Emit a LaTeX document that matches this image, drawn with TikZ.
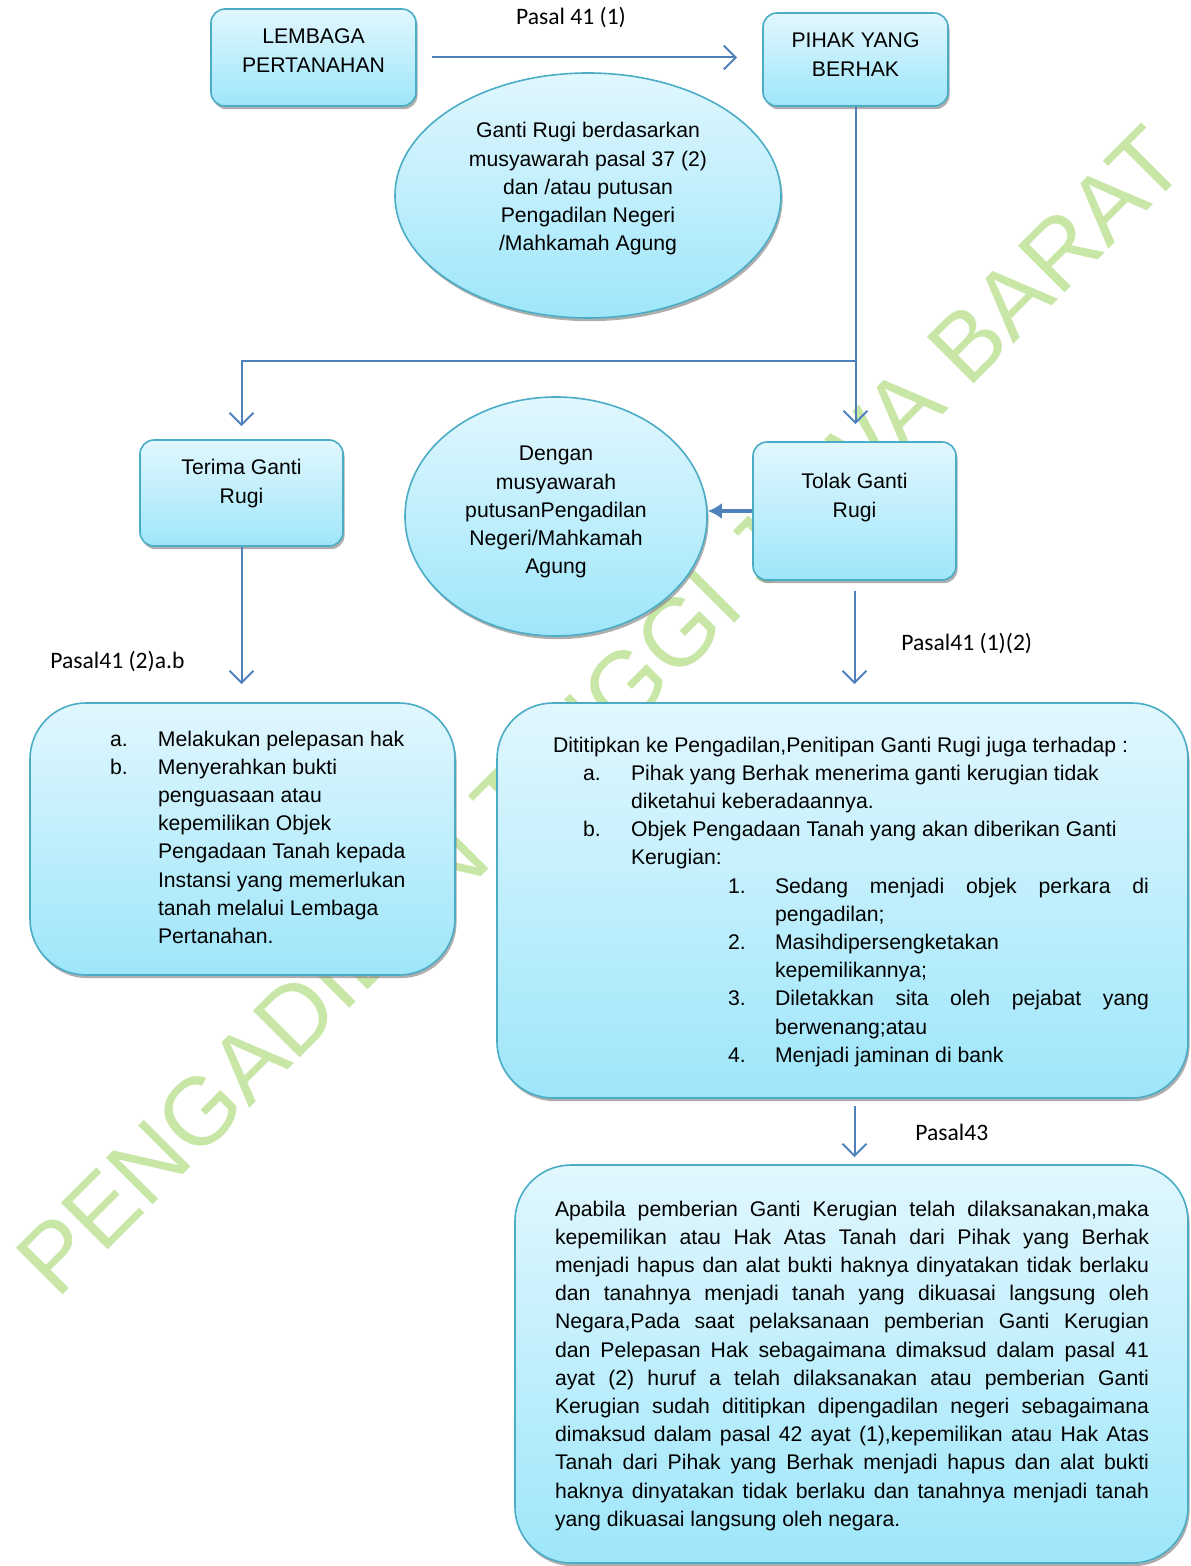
\documentclass[tikz,border=0pt]{standalone}
\usepackage{fontspec}
\setmainfont{Liberation Sans}
\newfontfamily\calibri{Carlito}
\usetikzlibrary{shapes.geometric,shadows,arrows.meta}
\definecolor{pt-biru}{RGB}{79,129,189}
\definecolor{pt-tepi}{RGB}{75,172,198}
\definecolor{pt-atas}{RGB}{225,247,254}
\definecolor{pt-bawah}{RGB}{158,230,250}
\definecolor{pt-hijau}{RGB}{200,230,166}
\newcommand{\rata}[2]{\makebox[#1][s]{#2}}

\tikzset{
  kotak/.style={draw=pt-tepi, line width=0.8pt, rounded corners=7pt, top color=pt-atas, bottom color=pt-bawah,
    inner sep=0pt, font=\fontsize{10.6}{14.1}\selectfont,
    drop shadow={shadow xshift=0.8pt, shadow yshift=-1.6pt, fill=black!45, opacity=.7}},
  kotakbesar/.style={kotak, rounded corners=28pt},
  elips/.style={kotak, ellipse},
  panah/.style={draw=pt-biru, line width=1pt, -{Straight Barb[length=6pt,width=12pt]}},
  panahtebal/.style={draw=pt-biru, line width=1.6pt, -{Latex[length=7pt,width=8pt]}},
  pasal/.style={font=\calibri\fontsize{11.8}{14}\selectfont, inner sep=0pt},
}

\begin{document}
\begin{tikzpicture}[x=0.5pt,y=-0.5pt]
\useasboundingbox (0,0) rectangle (1190,1566);
%tanda air:
\node[pt-hijau, rotate=45, anchor=base, inner sep=0pt, font=\fontsize{48}{48}\selectfont] (tandaair) at (623.5,734.5) {PENGADILAN TINGGI JAWA BARAT};

%kotak dan elips:
\node[kotak] (lembaga) at (313.5,57.5) {\parbox[c][48.5pt][t]{102.5pt}{\centering\rule{0pt}{17.5pt}LEMBAGA\\PERTANAHAN}};
\node[kotak] (pihak) at (855.5,59.5) {\parbox[c][46.5pt][t]{92.5pt}{\centering\rule{0pt}{17.5pt}PIHAK YANG\\BERHAK}};
\node[elips, minimum width=193pt, minimum height=122.5pt] (musyawarah) at (588,195.5) {\parbox[c][86pt][t]{130pt}{\centering\rule{0pt}{14.25pt}Ganti Rugi berdasarkan\\musyawarah pasal 37 (2)\\dan /atau putusan\\Pengadilan Negeri\\/Mahkamah Agung}};
\node[kotak] (terima) at (241.5,493) {\parbox[c][53pt][t]{101.5pt}{\centering\rule{0pt}{17.5pt}Terima Ganti\\Rugi}};
\node[kotak] (tolak) at (854.5,511) {\parbox[c][69pt][t]{101.5pt}{\centering\rule{0pt}{23.5pt}Tolak Ganti\\Rugi}};
\node[elips, minimum width=151pt, minimum height=119.5pt] (putusan) at (556,516.5) {\parbox[c][84pt][t]{104pt}{\centering\rule{0pt}{14.25pt}Dengan\\musyawarah\\putusanPengadilan\\Negeri/Mahkamah\\Agung}};

\node[kotakbesar] (pelepasan) at (242.5,839) {\parbox[c][136pt][t]{212.5pt}{\raggedright\rule{0pt}{21.5pt}%
\hspace*{40pt}\makebox[24pt][l]{a.}Melakukan pelepasan hak\\
\hspace*{40pt}\makebox[24pt][l]{b.}Menyerahkan bukti\\
\hspace*{64pt}penguasaan atau\\
\hspace*{64pt}kepemilikan Objek\\
\hspace*{64pt}Pengadaan Tanah kepada\\
\hspace*{64pt}Instansi yang memerlukan\\
\hspace*{64pt}tanah melalui Lembaga\\
\hspace*{64pt}Pertanahan.}};

\node[kotakbesar] (dititipkan) at (842.5,900.5) {\parbox[c][197.5pt][t]{345.5pt}{\raggedright\rule{0pt}{24.5pt}%
\hspace*{28pt}Dititipkan ke Pengadilan,Penitipan Ganti Rugi juga terhadap :\\
\hspace*{43pt}\makebox[24pt][l]{a.}Pihak yang Berhak menerima ganti kerugian tidak\\
\hspace*{67pt}diketahui keberadaannya.\\
\hspace*{43pt}\makebox[24pt][l]{b.}Objek Pengadaan Tanah yang akan diberikan Ganti\\
\hspace*{67pt}Kerugian:\\
\hspace*{115.5pt}\makebox[23.5pt][l]{1.}\rata{187pt}{Sedang menjadi objek perkara di}\\
\hspace*{139pt}pengadilan;\\
\hspace*{115.5pt}\makebox[23.5pt][l]{2.}Masihdipersengketakan\\
\hspace*{139pt}kepemilikannya;\\
\hspace*{115.5pt}\makebox[23.5pt][l]{3.}\rata{187pt}{Diletakkan sita oleh pejabat yang}\\
\hspace*{139pt}berwenang;atau\\
\hspace*{115.5pt}\makebox[23.5pt][l]{4.}Menjadi jaminan di bank}};

\node[kotakbesar] (hapus) at (851.5,1364) {\parbox[c][199pt][t]{336.5pt}{\raggedright\rule{0pt}{25.5pt}%
\hspace*{20pt}\rata{297pt}{Apabila pemberian Ganti Kerugian telah dilaksanakan,maka}\\
\hspace*{20pt}\rata{297pt}{kepemilikan atau Hak Atas Tanah dari Pihak yang Berhak}\\
\hspace*{20pt}\rata{297pt}{menjadi hapus dan alat bukti haknya dinyatakan tidak berlaku}\\
\hspace*{20pt}\rata{297pt}{dan tanahnya menjadi tanah yang dikuasai langsung oleh}\\
\hspace*{20pt}\rata{297pt}{Negara,Pada saat pelaksanaan pemberian Ganti Kerugian}\\
\hspace*{20pt}\rata{297pt}{dan Pelepasan Hak sebagaimana dimaksud dalam pasal 41}\\
\hspace*{20pt}\rata{297pt}{ayat (2) huruf a telah dilaksanakan atau pemberian Ganti}\\
\hspace*{20pt}\rata{297pt}{Kerugian sudah dititipkan dipengadilan negeri sebagaimana}\\
\hspace*{20pt}\rata{297pt}{dimaksud dalam pasal 42 ayat (1),kepemilikan atau Hak Atas}\\
\hspace*{20pt}\rata{297pt}{Tanah dari Pihak yang Berhak menjadi hapus dan alat bukti}\\
\hspace*{20pt}\rata{297pt}{haknya dinyatakan tidak berlaku dan tanahnya menjadi tanah}\\
\hspace*{20pt}yang dikuasai langsung oleh negara.}};

%label pasal:
\node[pasal, anchor=base] (pasal41a) at (571,25) {Pasal 41 (1)};
\node[pasal, anchor=base west] (pasal41b) at (50,668) {Pasal41 (2)a.b};
\node[pasal, anchor=base west] (pasal41c) at (901,650) {Pasal41 (1)(2)};
\node[pasal, anchor=base west] (pasal43) at (915,1140) {Pasal43};

%panah:
\coordinate (cabang) at (855.5,361);
\draw[panah, shorten <=7.5pt, shorten >=12.5pt] (lembaga.east) -- (lembaga.east -| pihak.west);
\draw[panah, shorten >=8.5pt] (pihak.south) -- (pihak.south |- tolak.north);
\draw[panah, shorten >=6.5pt] (cabang) -| (terima.north);
\draw[panahtebal] (tolak.west) -- (tolak.west -| putusan.east);
\draw[panah, shorten >=9pt] (terima.south) -- (pelepasan.north -| terima.south);
\draw[panah, shorten <=5pt, shorten >=9pt] (tolak.south) -- (tolak.south |- dititipkan.north);
\draw[panah, shorten <=3.5pt, shorten >=3.5pt] (tolak.south |- dititipkan.south) -- (tolak.south |- hapus.north);
\end{tikzpicture}
\end{document}
